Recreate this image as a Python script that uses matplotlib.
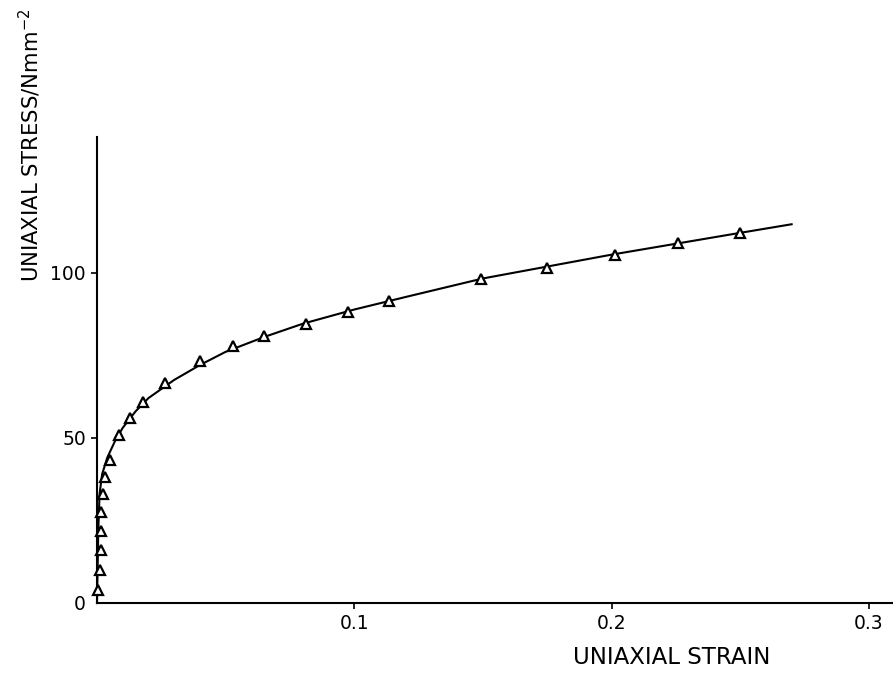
import matplotlib
matplotlib.use("Agg")
import matplotlib.pyplot as plt

# Measured data points (triangles)
strain_pts = [0.0004, 0.001, 0.0015, 0.0015, 0.0015, 0.0023, 0.003, 0.005, 0.0085,
              0.013, 0.018, 0.0266, 0.040, 0.053, 0.065, 0.0812, 0.0975, 0.1135,
              0.1493, 0.175, 0.2015, 0.226, 0.250]
stress_pts = [3.9, 10.0, 16.0, 21.9, 27.5, 33.0, 38.0, 43.2, 50.7,
              56.0, 60.9, 66.5, 73.1, 77.8, 80.8, 84.3, 88.1, 91.4,
              97.9, 101.3, 105.3, 108.9, 112.1]

# Fitted curve
strain_curve = [0.0, 0.0005, 0.001, 0.002, 0.004, 0.007, 0.010, 0.015, 0.020, 0.030,
                0.040, 0.050, 0.065, 0.080, 0.100, 0.120, 0.150, 0.175, 0.200, 0.225,
                0.250, 0.270]
stress_curve = [0.0, 22.0, 33.0, 39.0, 44.0, 49.0, 53.0, 58.0, 62.0, 67.5,
                72.0, 76.0, 80.5, 84.5, 88.8, 92.6, 98.2, 101.8, 105.4, 108.7,
                112.0, 114.6]

xticks = [0.1, 0.2, 0.3]
xticklabels = ["0.1", "0.2", "0.3"]
yticks = [0, 50, 100]
yticklabels = ["0", "50", "100"]

W, H = 893, 677
fig = plt.figure(figsize=(W / 100, H / 100), dpi=100)
ax = fig.add_axes([97 / W, 74 / H, (W - 97) / W, 466 / H])

ax.plot(strain_curve, stress_curve, color="black", lw=1.5, clip_on=False, zorder=2)
ax.plot(strain_pts, stress_pts, linestyle="none", marker="^", markersize=7,
        markerfacecolor="white", markeredgecolor="black", markeredgewidth=1.6,
        clip_on=False, zorder=3)

ax.set_xlim(0, 0.3094)
ax.set_ylim(0, 141)

for s in ["top", "right"]:
    ax.spines[s].set_visible(False)
for s in ["left", "bottom"]:
    ax.spines[s].set_linewidth(1.5)

ax.set_xticks(xticks)
ax.set_xticklabels(xticklabels)
ax.set_yticks(yticks)
ax.set_yticklabels(yticklabels)
ax.tick_params(axis="both", direction="out", length=4, width=1.2, labelsize=13.5, pad=4)
ax.yaxis.get_major_ticks()[0].tick1line.set_visible(False)

fig.text(672 / W, 1 - 657 / H, "UNIAXIAL STRAIN", ha="center", va="center", fontsize=16.5)
fig.text(30 / W, 1 - 282 / H, "UNIAXIAL STRESS/Nmm$^{-2}$", rotation=90,
         ha="center", va="bottom", fontsize=15.2)

fig.savefig("out.png", dpi=100)
